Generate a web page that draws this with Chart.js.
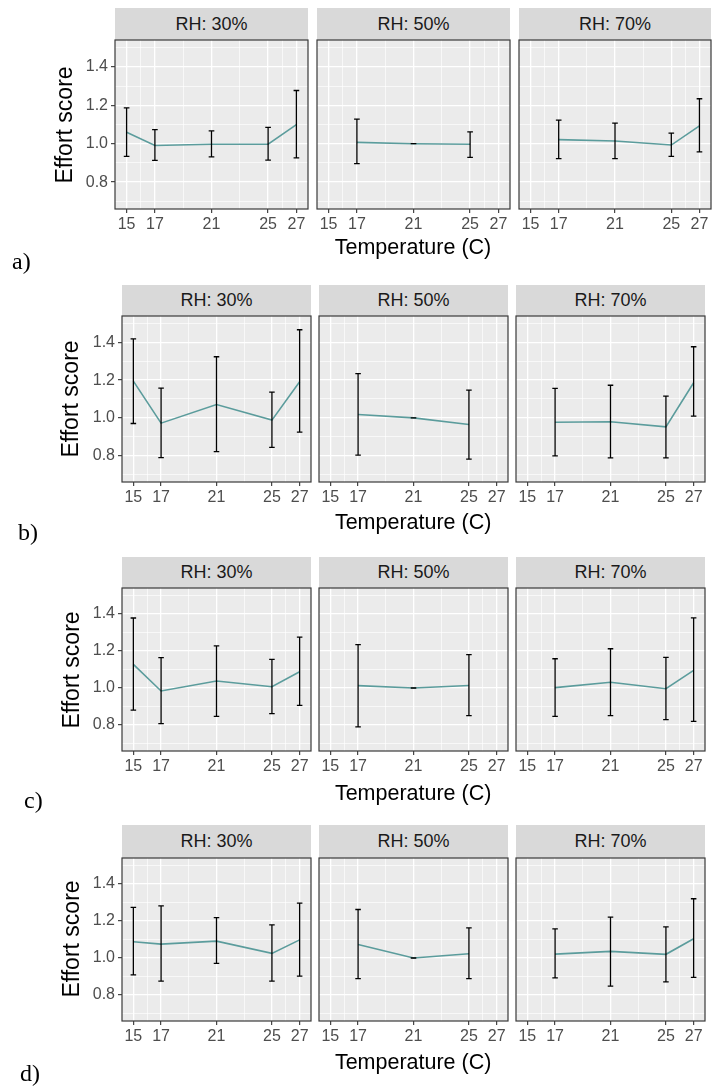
<!DOCTYPE html>
<html>
<head>
<meta charset="utf-8">
<script src="https://cdn.jsdelivr.net/npm/chart.js@4.4.1/dist/chart.umd.min.js"></script>
<style>
  html, body { margin: 0; padding: 0; background: #ffffff; }
  #wrap { position: relative; width: 712px; height: 1086px; overflow: hidden; background: #ffffff; }
  canvas { position: absolute; }
  .strip { position: absolute; background: #D9D9D9; color: #1A1A1A; font-family: "Liberation Sans", Arial, sans-serif; font-size: 18px; display: flex; align-items: center; justify-content: center; white-space: nowrap; }
  .xtitle { position: absolute; font-family: "Liberation Sans", Arial, sans-serif; font-size: 21.5px; color: #000; white-space: nowrap; transform: translate(-50%, -50%); }
  .ytitle { position: absolute; font-family: "Liberation Sans", Arial, sans-serif; font-size: 23px; color: #000; white-space: nowrap; transform: translate(-50%, -50%) rotate(-90deg); }
  .letter { position: absolute; font-family: "Liberation Serif", "Times New Roman", serif; font-size: 24px; color: #000; white-space: nowrap; transform: translate(0, -50%); }
</style>
</head>
<body>
<div id="wrap"></div>
<script>
// ---------------- data ----------------
const temps = [15, 17, 21, 25, 27];
const xMajor = [15, 17, 21, 25, 27];
const xMinor = [16, 19, 23, 26];
const yMajor = [0.8, 1.0, 1.2, 1.4];
const yMinor = [0.7, 0.9, 1.1, 1.3, 1.5];
const yTickLabels = ['0.8', '1.0', '1.2', '1.4'];
const rhLabels = ['RH: 30%', 'RH: 50%', 'RH: 70%'];
const panelLetters = ['a)', 'b)', 'c)', 'd)'];
const xTitle = 'Temperature (C)';
const yTitle = 'Effort score';

// row a
const meanA30 = [1.060, 0.991, 0.997, 0.998, 1.099];
const lowA30  = [0.934, 0.913, 0.931, 0.915, 0.926];
const highA30 = [1.187, 1.073, 1.067, 1.085, 1.277];
const meanA50 = [null, 1.007, 1.000, 0.997, null];
const lowA50  = [null, 0.896, 1.000, 0.929, null];
const highA50 = [null, 1.128, 1.000, 1.062, null];
const meanA70 = [null, 1.021, 1.014, 0.993, 1.093];
const lowA70  = [null, 0.922, 0.922, 0.934, 0.957];
const highA70 = [null, 1.123, 1.107, 1.055, 1.234];
// row b
const meanB30 = [1.195, 0.972, 1.071, 0.988, 1.191];
const lowB30  = [0.970, 0.789, 0.821, 0.844, 0.924];
const highB30 = [1.419, 1.158, 1.324, 1.136, 1.467];
const meanB50 = [null, 1.018, 1.000, 0.965, null];
const lowB50  = [null, 0.802, 1.000, 0.781, null];
const highB50 = [null, 1.235, 1.000, 1.147, null];
const meanB70 = [null, 0.977, 0.979, 0.952, 1.186];
const lowB70  = [null, 0.798, 0.788, 0.788, 1.009];
const highB70 = [null, 1.156, 1.173, 1.115, 1.377];
// row c
const meanC30 = [1.128, 0.984, 1.038, 1.007, 1.088];
const lowC30  = [0.881, 0.808, 0.847, 0.862, 0.906];
const highC30 = [1.378, 1.164, 1.228, 1.155, 1.275];
const meanC50 = [null, 1.013, 1.000, 1.014, null];
const lowC50  = [null, 0.790, 1.000, 0.851, null];
const highC50 = [null, 1.234, 1.000, 1.180, null];
const meanC70 = [null, 1.002, 1.031, 0.996, 1.095];
const lowC70  = [null, 0.847, 0.851, 0.829, 0.820];
const highC70 = [null, 1.158, 1.212, 1.165, 1.379];
// row d
const meanD30 = [1.088, 1.075, 1.091, 1.025, 1.098];
const lowD30  = [0.909, 0.875, 0.971, 0.875, 0.902];
const highD30 = [1.273, 1.282, 1.218, 1.179, 1.296];
const meanD50 = [null, 1.073, 1.000, 1.023, null];
const lowD50  = [null, 0.889, 1.000, 0.889, null];
const highD50 = [null, 1.262, 1.000, 1.163, null];
const meanD70 = [null, 1.021, 1.036, 1.020, 1.104];
const lowD70  = [null, 0.893, 0.848, 0.871, 0.896];
const highD70 = [null, 1.157, 1.221, 1.168, 1.320];

const rowsData = [
  { mean: [meanA30, meanA50, meanA70], low: [lowA30, lowA50, lowA70], high: [highA30, highA50, highA70] },
  { mean: [meanB30, meanB50, meanB70], low: [lowB30, lowB50, lowB70], high: [highB30, highB50, highB70] },
  { mean: [meanC30, meanC50, meanC70], low: [lowC30, lowC50, lowC70], high: [highC30, highC50, highC70] },
  { mean: [meanD30, meanD50, meanD70], low: [lowD30, lowD50, lowD70], high: [highD30, highD50, highD70] }
];

// ---------------- layout / style ----------------
const X_MIN = 14.18, X_MAX = 27.82;
const Y_MIN = 0.66, Y_MAX = 1.54;
const X_AXIS_H = 30;
const Y_AXIS_W = 40;
const PADX = 12, PADT = 4;
const FONT = '"Liberation Sans", Arial, sans-serif';
const LINE_COLOR = '#5B9C9C';

const panelsBCD = [[121.5, 310.8], [319.2, 507.5], [515.8, 704.8]];
const rowLayout = [
  { stripTop: 8.3,   panelTop: 40.3,  panelBottom: 209.3, panels: [[115, 308.3], [316.8, 510], [519, 711]], yTitleX: 64, xTitleY: 246.7, letterX: 12, letterY: 261 },
  { stripTop: 285,   panelTop: 315.7, panelBottom: 481.7, panels: panelsBCD, yTitleX: 70, xTitleY: 521.7, letterX: 18, letterY: 532 },
  { stripTop: 556.7, panelTop: 588.3, panelBottom: 751,   panels: panelsBCD, yTitleX: 71, xTitleY: 793,   letterX: 24, letterY: 800 },
  { stripTop: 825,   panelTop: 857.7, panelBottom: 1021,  panels: panelsBCD, yTitleX: 71, xTitleY: 1061.7, letterX: 20, letterY: 1073 }
];

const near = (a, b) => Math.abs(a - b) < 1e-9;
const isXMajor = v => xMajor.some(m => near(m, v));
const isYMajor = v => yMajor.some(m => near(m, v));
const xTicksAll = xMajor.concat(xMinor).sort((a, b) => a - b);
const yTicksAll = yMajor.concat(yMinor).sort((a, b) => a - b);

const panelPlugin = {
  id: 'panelDeco',
  beforeDraw(chart) {
    const { ctx, chartArea: a } = chart;
    ctx.save();
    ctx.fillStyle = '#EBEBEB';
    ctx.fillRect(a.left, a.top, a.right - a.left, a.bottom - a.top);
    ctx.restore();
  },
  afterDraw(chart) {
    const { ctx, chartArea: a } = chart;
    ctx.save();
    ctx.strokeStyle = '#3A3A3A';
    ctx.lineWidth = 1.2;
    ctx.strokeRect(a.left, a.top, a.right - a.left, a.bottom - a.top);
    ctx.restore();
  }
};

const errorBarPlugin = {
  id: 'errorBars',
  afterDatasetsDraw(chart) {
    const eb = chart.options.plugins.errorBars;
    if (!eb) return;
    const { ctx } = chart;
    const xs = chart.scales.x, ys = chart.scales.y;
    ctx.save();
    ctx.strokeStyle = '#000000';
    ctx.lineWidth = 1.3;
    const halfW = 0.2;
    eb.x.forEach((xv, i) => {
      if (eb.low[i] == null || eb.high[i] == null) return;
      const px = xs.getPixelForValue(xv);
      const pl = xs.getPixelForValue(xv - halfW);
      const pr = xs.getPixelForValue(xv + halfW);
      const yl = ys.getPixelForValue(eb.low[i]);
      const yh = ys.getPixelForValue(eb.high[i]);
      ctx.beginPath();
      ctx.moveTo(px, yl); ctx.lineTo(px, yh);
      ctx.moveTo(pl, yl); ctx.lineTo(pr, yl);
      ctx.moveTo(pl, yh); ctx.lineTo(pr, yh);
      ctx.stroke();
    });
    ctx.restore();
  }
};

const wrap = document.getElementById('wrap');

function addDiv(cls, text, style) {
  const d = document.createElement('div');
  d.className = cls;
  d.textContent = text;
  Object.assign(d.style, style);
  wrap.appendChild(d);
  return d;
}

rowLayout.forEach((L, r) => {
  const D = rowsData[r];
  L.panels.forEach((pp, p) => {
    const pl = Math.round(pp[0]), pr = Math.round(pp[1]);
    const pt = Math.round(L.panelTop), pb = Math.round(L.panelBottom);
    // strip
    addDiv('strip', rhLabels[p], {
      left: pl + 'px', width: (pr - pl) + 'px',
      top: Math.round(L.stripTop) + 'px', height: (pt - Math.round(L.stripTop)) + 'px'
    });
    const yW = p === 0 ? Y_AXIS_W : 0;
    const cw = (pr - pl) + yW + 2 * PADX;
    const ch = (pb - pt) + PADT + X_AXIS_H;
    const canvas = document.createElement('canvas');
    canvas.width = cw; canvas.height = ch;
    canvas.style.width = cw + 'px'; canvas.style.height = ch + 'px';
    canvas.style.left = (pl - yW - PADX) + 'px';
    canvas.style.top = (pt - PADT) + 'px';
    wrap.appendChild(canvas);

    const mean = D.mean[p], low = D.low[p], high = D.high[p];
    const pts = [];
    temps.forEach((t, i) => { if (mean[i] != null) pts.push({ x: t, y: mean[i] }); });

    new Chart(canvas, {
      type: 'line',
      data: {
        datasets: [{
          data: pts,
          borderColor: LINE_COLOR,
          borderWidth: 1.6,
          pointRadius: 0,
          pointHoverRadius: 0,
          tension: 0,
          fill: false
        }]
      },
      options: {
        responsive: false,
        animation: false,
        devicePixelRatio: 1,
        events: [],
        layout: { padding: { left: PADX, right: PADX, top: PADT, bottom: 0 } },
        plugins: {
          legend: { display: false },
          tooltip: { enabled: false },
          title: { display: false },
          errorBars: { x: temps, low: low, high: high }
        },
        scales: {
          x: {
            type: 'linear',
            min: X_MIN, max: X_MAX,
            afterBuildTicks: s => { s.ticks = xTicksAll.map(v => ({ value: v })); },
            afterFit: s => { s.height = X_AXIS_H; s.paddingLeft = 0; s.paddingRight = 0; s.paddingTop = 0; s.paddingBottom = 0; },
            border: { display: false },
            grid: {
              color: '#FFFFFF',
              lineWidth: c => (c.tick && isXMajor(c.tick.value)) ? 1.3 : 0.65,
              drawTicks: true,
              tickLength: 4,
              tickWidth: 1.1,
              tickColor: c => (c.tick && isXMajor(c.tick.value)) ? '#333333' : 'rgba(0,0,0,0)'
            },
            ticks: {
              autoSkip: false, maxRotation: 0, minRotation: 0, padding: 2,
              color: '#4D4D4D',
              font: { family: FONT, size: 16 },
              callback: v => isXMajor(v) ? String(xMajor.find(m => near(m, v))) : ''
            }
          },
          y: {
            type: 'linear',
            min: Y_MIN, max: Y_MAX,
            afterBuildTicks: s => { s.ticks = yTicksAll.map(v => ({ value: v })); },
            afterFit: s => { s.width = yW; s.paddingLeft = 0; s.paddingRight = 0; s.paddingTop = 0; s.paddingBottom = 0; },
            border: { display: false },
            grid: {
              color: '#FFFFFF',
              lineWidth: c => (c.tick && isYMajor(c.tick.value)) ? 1.3 : 0.65,
              drawTicks: p === 0,
              tickLength: 4,
              tickWidth: 1.1,
              tickColor: c => (c.tick && isYMajor(c.tick.value)) ? '#333333' : 'rgba(0,0,0,0)'
            },
            ticks: {
              display: p === 0,
              autoSkip: false, padding: 3,
              color: '#4D4D4D',
              font: { family: FONT, size: 16 },
              callback: v => {
                const k = yMajor.findIndex(m => near(m, v));
                return k >= 0 ? yTickLabels[k] : '';
              }
            }
          }
        }
      },
      plugins: [panelPlugin, errorBarPlugin]
    });
  });

  // axis titles and panel letter
  addDiv('xtitle', xTitle, { left: ((L.panels[0][0] + L.panels[2][1]) / 2) + 'px', top: L.xTitleY + 'px' });
  addDiv('ytitle', yTitle, { left: L.yTitleX + 'px', top: ((L.panelTop + L.panelBottom) / 2) + 'px' });
  addDiv('letter', panelLetters[r], { left: L.letterX + 'px', top: L.letterY + 'px' });
});
</script>
</body>
</html>
